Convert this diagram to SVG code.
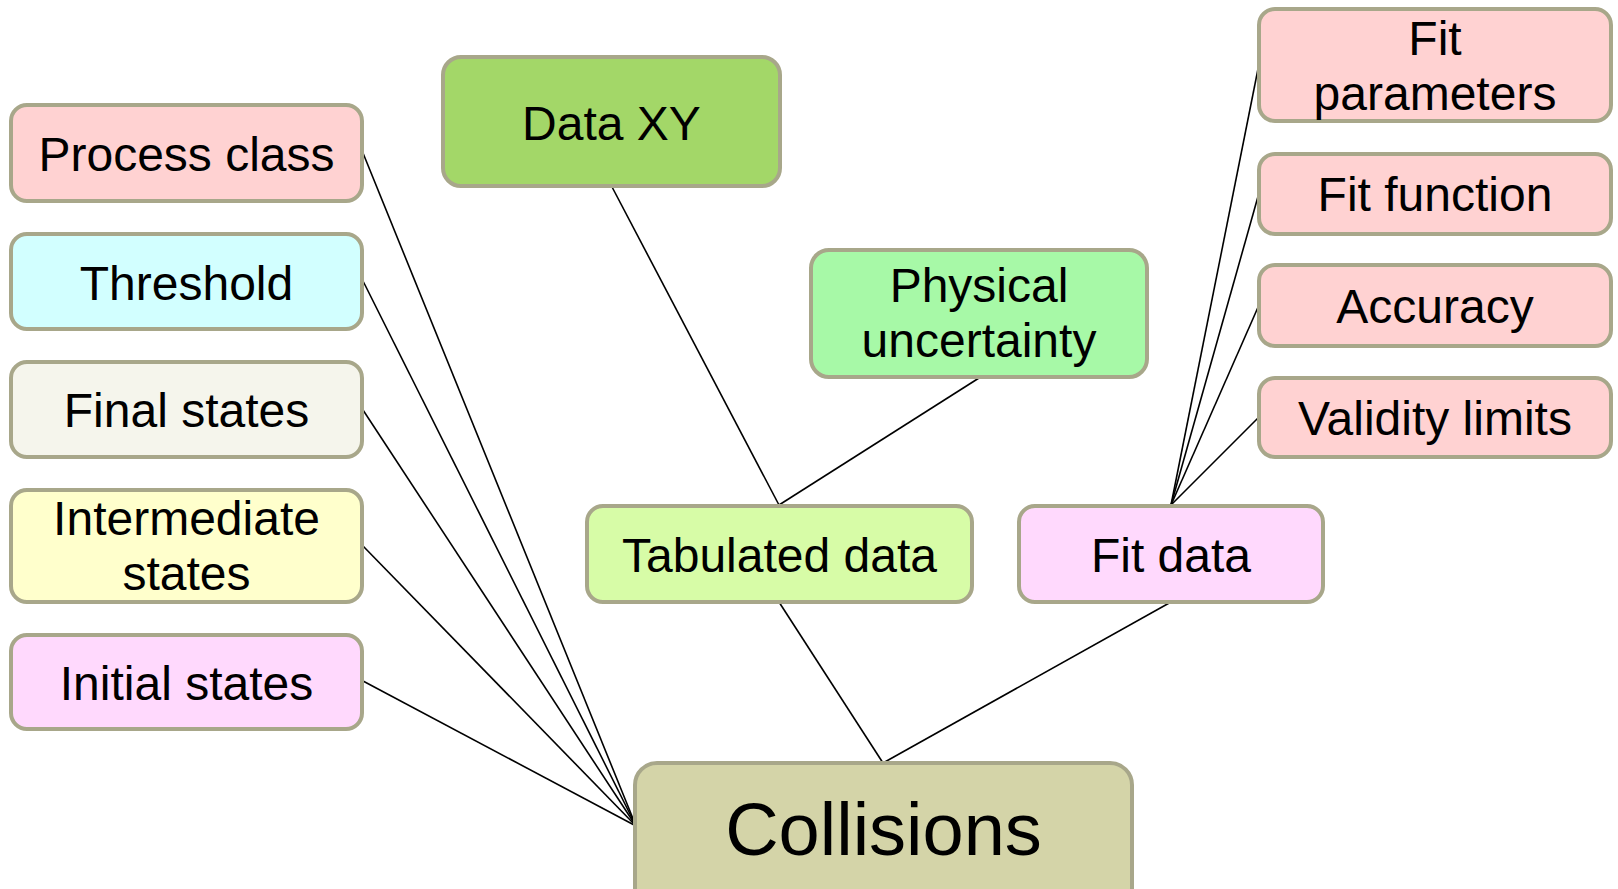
<svg xmlns="http://www.w3.org/2000/svg" width="1618" height="889" viewBox="0 0 1618 889">
  <style>
    .box { stroke: #a8a78a; stroke-width: 4; }
    .lbl { font-family: "Liberation Sans", Arial, sans-serif; font-size: 48px; fill: #000; text-anchor: middle; }
    .big { font-size: 74px; }
    .edge { stroke: #000; stroke-width: 1.6; fill: none; }
    .pink { fill: #ffd2d2; }
    .mauve { fill: #ffd9fd; }
  </style>
  <rect width="1618" height="889" fill="#ffffff"/>

  <!-- connectors -->
  <g id="connectors">
    <line class="edge" x1="363" y1="153" x2="636" y2="826"/>
    <line class="edge" x1="363" y1="281" x2="636" y2="826"/>
    <line class="edge" x1="363" y1="410" x2="636" y2="826"/>
    <line class="edge" x1="363" y1="546" x2="636" y2="826"/>
    <line class="edge" x1="363" y1="681" x2="636" y2="826"/>
    <line class="edge" x1="611" y1="185" x2="779" y2="505"/>
    <line class="edge" x1="979" y1="378" x2="779" y2="505"/>
    <line class="edge" x1="779" y1="602" x2="883" y2="763"/>
    <line class="edge" x1="1171" y1="602" x2="883" y2="763"/>
    <line class="edge" x1="1171" y1="505" x2="1259" y2="64"/>
    <line class="edge" x1="1171" y1="505" x2="1259" y2="193"/>
    <line class="edge" x1="1171" y1="505" x2="1259" y2="305"/>
    <line class="edge" x1="1171" y1="505" x2="1259" y2="417"/>
  </g>

  <!-- left column -->
  <g id="process-class">
    <rect class="box pink" x="11" y="105" width="351" height="96" rx="16"/>
    <text class="lbl" x="186.5" y="171">Process class</text>
  </g>
  <g id="threshold">
    <rect class="box" fill="#d2ffff" x="11" y="234" width="351" height="95" rx="16"/>
    <text class="lbl" x="186.5" y="300">Threshold</text>
  </g>
  <g id="final-states">
    <rect class="box" fill="#f5f5ec" x="11" y="362" width="351" height="95" rx="16"/>
    <text class="lbl" x="186.5" y="427">Final states</text>
  </g>
  <g id="intermediate-states">
    <rect class="box" fill="#ffffcc" x="11" y="490" width="351" height="112" rx="16"/>
    <text class="lbl" x="186.5" y="535">Intermediate</text>
    <text class="lbl" x="186.5" y="590">states</text>
  </g>
  <g id="initial-states">
    <rect class="box mauve" x="11" y="635" width="351" height="94" rx="16"/>
    <text class="lbl" x="186.5" y="700">Initial states</text>
  </g>

  <!-- middle -->
  <g id="data-xy">
    <rect class="box" fill="#a3d768" x="443" y="57" width="337" height="129" rx="18"/>
    <text class="lbl" x="611.5" y="140">Data XY</text>
  </g>
  <g id="physical-uncertainty">
    <rect class="box" fill="#a7f9a7" x="811" y="250" width="336" height="127" rx="18"/>
    <text class="lbl" x="979" y="302">Physical</text>
    <text class="lbl" x="979" y="357">uncertainty</text>
  </g>
  <g id="tabulated-data">
    <rect class="box" fill="#d7fca7" x="587" y="506" width="385" height="96" rx="16"/>
    <text class="lbl" x="779.5" y="572">Tabulated data</text>
  </g>
  <g id="fit-data">
    <rect class="box mauve" x="1019" y="506" width="304" height="96" rx="16"/>
    <text class="lbl" x="1171" y="572">Fit data</text>
  </g>

  <!-- right column -->
  <g id="fit-parameters">
    <rect class="box pink" x="1259" y="9" width="352" height="112" rx="16"/>
    <text class="lbl" x="1435" y="55">Fit</text>
    <text class="lbl" x="1435" y="110">parameters</text>
  </g>
  <g id="fit-function">
    <rect class="box pink" x="1259" y="154" width="352" height="80" rx="16"/>
    <text class="lbl" x="1435" y="211">Fit function</text>
  </g>
  <g id="accuracy">
    <rect class="box pink" x="1259" y="265" width="352" height="81" rx="16"/>
    <text class="lbl" x="1435" y="323">Accuracy</text>
  </g>
  <g id="validity-limits">
    <rect class="box pink" x="1259" y="378" width="352" height="79" rx="16"/>
    <text class="lbl" x="1435" y="435">Validity limits</text>
  </g>

  <!-- root -->
  <g id="collisions">
    <rect class="box" fill="#d4d4a8" x="635" y="763" width="497" height="150" rx="22"/>
    <text class="lbl big" x="883.5" y="855">Collisions</text>
  </g>
</svg>
